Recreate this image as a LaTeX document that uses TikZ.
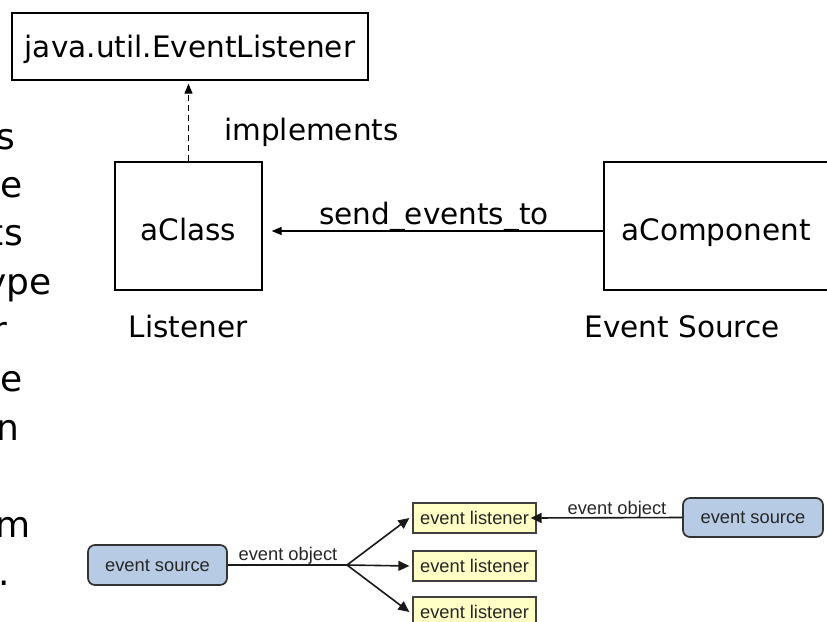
\documentclass[tikz,border=0pt]{standalone}
\usepackage{fontspec}
\setmainfont{DejaVu Sans}
\newfontfamily\helv{Liberation Sans}
\usetikzlibrary{arrows.meta}
\definecolor{srcblue}{HTML}{B8CBE4}
\definecolor{lisyellow}{HTML}{FFFFC6}
\begin{document}
\begin{tikzpicture}[x=1pt,y=-1pt,
  umlbox/.style={draw, line width=1.4pt, inner sep=0pt,
    font=\fontsize{29.5}{35}\selectfont, text depth=0pt},
  lbl/.style={inner sep=0pt, font=\fontsize{29.5}{35}\selectfont},
  frag/.style={inner sep=0pt, anchor=base east, font=\fontsize{36}{40}\selectfont},
  srcbox/.style={draw=black!80, line width=1.7pt, rounded corners=7pt, fill=srcblue,
    inner sep=0pt, font=\helv\fontsize{18.3}{22}\selectfont, text=black!85,
    text height=12pt, text depth=0pt},
  lisbox/.style={draw=black!75, line width=1.3pt, fill=lisyellow,
    inner sep=0pt, font=\helv\fontsize{18.3}{22}\selectfont, text=black!85,
    minimum width=123pt, minimum height=30pt, text height=13pt, text depth=0pt},
  evlbl/.style={inner sep=0pt, anchor=base, font=\helv\fontsize{18.3}{22}\selectfont, text=black!85},
  conn/.style={line width=1.6pt, draw=black!90},
  tip/.style={-{Triangle[length=11pt,width=10pt]}},
  umltip/.style={-{Triangle[length=10pt,width=8pt]}}
]
\useasboundingbox (0,0) rectangle (827,621);
\clip (0,0) rectangle (827,621);

% line ends of the text column on the left
\node[frag] (f1) at (15,149) {s};
\node[frag] (f2) at (23,197) {e};
\node[frag] (f3) at (23,245) {ts};
\node[frag] (f4) at (52,294) {ype};
\node[frag] (f5) at (8,342) {r};
\node[frag] (f6) at (23,391) {e};
\node[frag] (f7) at (20,440) {n};
\node[frag] (f8) at (31,537) {m};
\node[frag] (f9) at (10,585) {.};

% class diagram
\node[umlbox, minimum width=356pt, minimum height=67pt, text height=22pt] (jbox) at (190,46.5) {java.util.EventListener};
\node[umlbox, minimum width=147pt, minimum height=128pt, text height=28pt] (aclass) at (188.5,226) {aClass};
\node[umlbox, minimum width=224pt, minimum height=128pt, text height=28pt] (acomp) at (716,226) {aComponent};

\node[lbl, anchor=base west] (impl) at (224,140) {implements};
\node[lbl, anchor=base] (send) at (434,224) {send\_events\_to};
\node[lbl, anchor=base] (lst) at (188,337) {Listener};
\node[lbl, anchor=base] (evs) at (682,337) {Event Source};

\draw[line width=1.3pt, dash pattern=on 6pt off 4pt, umltip]
  (aclass.north) -- ([yshift=-3pt]aclass.north |- jbox.south);
\draw[line width=1.3pt, umltip]
  ([yshift=-5pt]acomp.west) -- ([yshift=-5pt,xshift=9pt]aclass.east);

% event sources and listeners
\node[srcbox, minimum width=139pt, minimum height=40pt] (src1) at (157.5,565) {event source};
\node[srcbox, minimum width=140pt, minimum height=39pt] (src2) at (753,517.5) {event source};
\node[lisbox] (l1) at (474.5,518) {event listener};
\node[lisbox] (l2) at (474.5,566) {event listener};
\node[lisbox] (l3) at (474.5,612) {event listener};
\coordinate (branch) at (347,565);

\node[evlbl] (eo1) at (288,560) {event object};
\node[evlbl] (eo2) at (617,514) {event object};

\draw[conn] (src1.east) -- (branch);
\draw[conn, tip] (branch) -- ([xshift=-3pt]l1.west);
\draw[conn, tip] (branch) -- ([xshift=-3pt]l2.west);
\draw[conn, tip] (branch) -- ([xshift=-3pt]l3.west);
\draw[conn, tip] (src2.west) -- ([xshift=-6pt]l1.east);
\end{tikzpicture}
\end{document}
